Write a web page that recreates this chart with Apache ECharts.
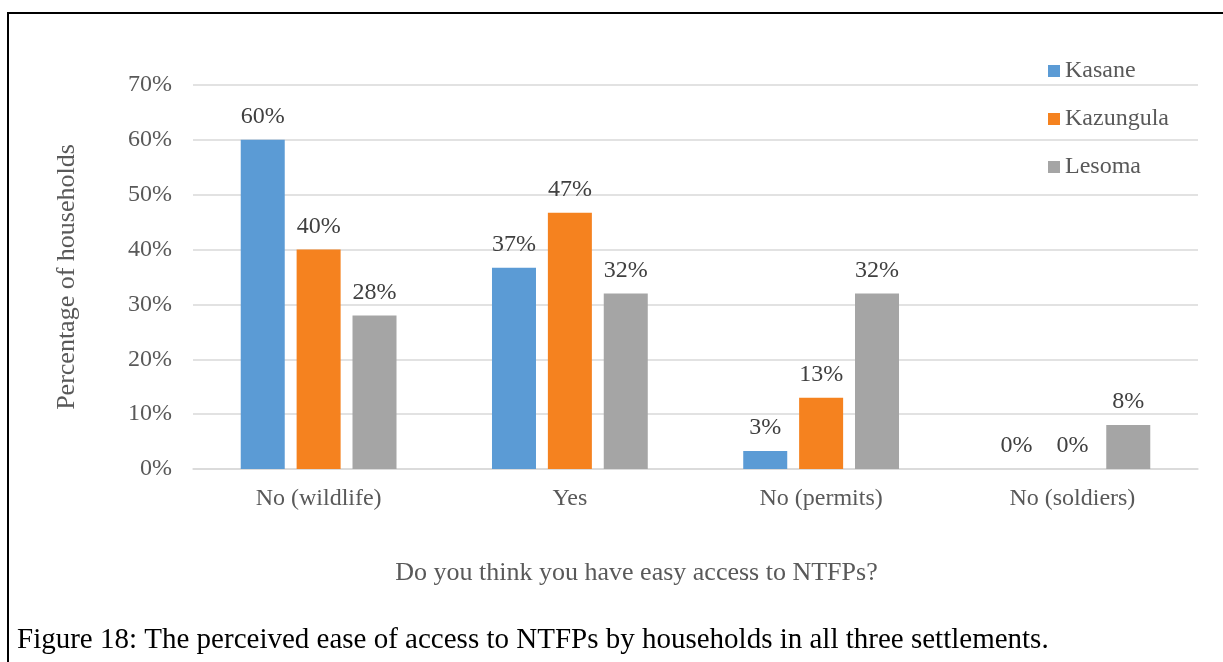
<!DOCTYPE html>
<html>
<head>
<meta charset="utf-8">
<title>Ease of access to NTFPs</title>
<script src="https://cdn.jsdelivr.net/npm/echarts@6/dist/echarts.min.js"></script>
<style>
  html, body { margin: 0; padding: 0; background: #ffffff; }
  #chart { width: 1223px; height: 662px; }
</style>
</head>
<body>
<div id="chart"></div>
<script>
// Survey answers (share of households, %)
const categories = ['No (wildlife)', 'Yes', 'No (permits)', 'No (soldiers)'];
const kasane = [60, 36.7, 3.3, 0];
const kazungula = [40, 46.7, 13, 0];
const lesoma = [28, 32, 32, 8];
const yTicks = [0, 10, 20, 30, 40, 50, 60, 70];

const serif = '"Liberation Serif", "Times New Roman", serif';
const tickGrey = '#595959';
const labelGrey = '#404040';
const gridGrey = '#D9D9D9';

function makeSeries(name, values, color) {
  return {
    name: name,
    type: 'bar',
    data: values,
    barGap: '27%',
    barCategoryGap: '38%',
    itemStyle: { color: color },
    label: {
      show: true,
      position: 'top',
      distance: 11,
      color: labelGrey,
      fontFamily: serif,
      fontSize: 24,
      formatter: p => Math.round(p.value) + '%'
    }
  };
}

const chart = echarts.init(document.getElementById('chart'), null, { renderer: 'canvas' });

chart.setOption({
  backgroundColor: '#ffffff',
  animation: false,
  textStyle: { fontFamily: serif },
  grid: { left: 193, right: 25, top: 85, bottom: 193, containLabel: false },
  legend: {
    orient: 'vertical',
    left: 1048,
    top: 59,
    padding: 0,
    icon: 'rect',
    itemWidth: 12,
    itemHeight: 12,
    itemGap: 24,
    textStyle: { color: tickGrey, fontFamily: serif, fontSize: 24, lineHeight: 24 },
    data: ['Kasane', 'Kazungula', 'Lesoma']
  },
  xAxis: {
    type: 'category',
    data: categories,
    name: 'Do you think you have easy access to NTFPs?',
    nameLocation: 'middle',
    nameGap: 91,
    nameTextStyle: {
      color: tickGrey, fontFamily: serif, fontSize: 26,
      padding: [0, 118, 0, 0]
    },
    axisLine: { show: true, lineStyle: { color: gridGrey, width: 1.5 } },
    axisTick: { show: false },
    axisLabel: { color: tickGrey, fontFamily: serif, fontSize: 24, margin: 18 }
  },
  yAxis: {
    type: 'value',
    min: yTicks[0],
    max: yTicks[yTicks.length - 1],
    interval: 10,
    name: 'Percentage of households',
    nameLocation: 'middle',
    nameGap: 113,
    nameTextStyle: { color: tickGrey, fontFamily: serif, fontSize: 26 },
    axisLine: { show: false },
    axisTick: { show: false },
    axisLabel: {
      color: tickGrey, fontFamily: serif, fontSize: 24, margin: 21,
      formatter: v => v + '%'
    },
    splitLine: { lineStyle: { color: gridGrey, width: 1.5 } }
  },
  series: [
    makeSeries('Kasane', kasane, '#5B9BD5'),
    makeSeries('Kazungula', kazungula, '#F5821F'),
    makeSeries('Lesoma', lesoma, '#A5A5A5')
  ],
  graphic: [
    // frame around the figure (top and left edges)
    { type: 'line', shape: { x1: 7, y1: 13, x2: 1223, y2: 13 },
      style: { stroke: '#000000', lineWidth: 2 } },
    { type: 'line', shape: { x1: 8, y1: 12, x2: 8, y2: 662 },
      style: { stroke: '#000000', lineWidth: 2 } },
    // figure caption
    { type: 'text', left: 17, top: 626,
      style: {
        text: 'Figure 18: The perceived ease of access to NTFPs by households in all three settlements.',
        fill: '#000000', font: '29px ' + serif
      } }
  ]
});
</script>
</body>
</html>
